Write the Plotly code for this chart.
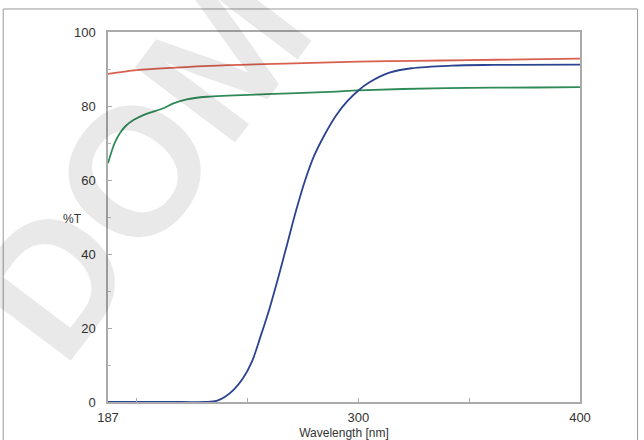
import plotly.graph_objects as go

# Red curve
red_x = [187, 200, 215, 230, 250, 275, 300, 325, 350, 375, 400]
red_y = [88.7, 89.7, 90.3, 90.8, 91.2, 91.6, 92.0, 92.2, 92.4, 92.6, 92.8]

# Green curve
green_x = [187, 190, 192.5, 195, 198.5, 204, 212, 216.5, 222.5, 231.5, 258.6, 287, 300, 320, 350, 380, 400]
green_y = [64.5, 70.0, 72.8, 74.6, 76.2, 77.8, 79.4, 80.7, 81.8, 82.5, 83.2, 83.8, 84.2, 84.6, 84.9, 85.0, 85.1]

# Blue curve
blue_x = [187, 200, 220, 231, 236, 240, 244, 248, 252, 256, 260, 264, 268, 272, 276, 280,
          285, 290, 295, 300, 305, 314, 324, 342, 361, 400]
blue_y = [0, 0, 0, 0, 0.3, 1.5, 3.5, 6.5, 11.0, 18.0, 25.5, 34.0, 43.0, 52.0, 60.0, 66.5,
          72.5, 77.5, 81.3, 84.2, 86.4, 89.0, 90.2, 90.9, 91.1, 91.2]

x_ticks = [187, 300, 400]
x_minor = [200, 250, 350]
y_ticks = [0, 20, 40, 60, 80, 100]

FONT = "Liberation Sans, Arial, sans-serif"

fig = go.Figure()
fig.add_trace(go.Scatter(x=red_x, y=red_y, mode="lines", line=dict(color="#d8604f", width=1.8, shape="spline")))
fig.add_trace(go.Scatter(x=green_x, y=green_y, mode="lines", line=dict(color="#2f8a58", width=1.8, shape="spline")))
fig.add_trace(go.Scatter(x=blue_x, y=blue_y, mode="lines", line=dict(color="#2b4390", width=1.8, shape="spline")))

axis_common = dict(showline=True, linecolor="#aaaaaa", linewidth=1.5, mirror=True,
                   showgrid=False, zeroline=False, ticks="inside", ticklen=4, automargin=False,
                   tickcolor="#aaaaaa", tickfont=dict(family=FONT, size=13, color="#333333"))

fig.update_xaxes(range=[187, 400], tickvals=x_ticks, ticktext=[str(v) for v in x_ticks],
                 minor=dict(tickvals=x_minor, ticks="inside", ticklen=4, tickcolor="#aaaaaa"),
                 ticklabelstandoff=3,
                 title=dict(text="Wavelength [nm]", font=dict(family=FONT, size=12, color="#333333"), standoff=6),
                 **axis_common)
fig.update_yaxes(range=[0, 100], tickvals=y_ticks,
                 minor=dict(dtick=10, ticks="inside", ticklen=3, tickcolor="#bbbbbb"),
                 ticklabelstandoff=8, **axis_common)

fig.update_layout(
    width=644, height=440,
    margin=dict(l=108, r=64, t=32, b=38),
    paper_bgcolor="white", plot_bgcolor="white",
    showlegend=False,
    shapes=[dict(type="rect", xref="paper", yref="paper",
                 x0=-0.222, x1=1.122, y0=-0.15, y1=1.0622,
                 line=dict(color="#999999", width=1), layer="below")],
    annotations=[
        dict(text="DOM", xref="paper", yref="paper", x=0.07, y=0.645, showarrow=False,
             textangle=-53,
             font=dict(family=FONT, size=182, color="rgba(0,0,0,0.085)", weight="bold"),
             xanchor="center", yanchor="middle"),
        dict(text="%T", xref="paper", yref="paper", x=-0.099, y=0.495, showarrow=False,
             font=dict(family=FONT, size=12, color="#333333")),
    ],
)

fig.write_html("out.html", config={"displayModeBar": False},
               post_script="document.body.style.margin='0';document.body.style.overflow='hidden';")
